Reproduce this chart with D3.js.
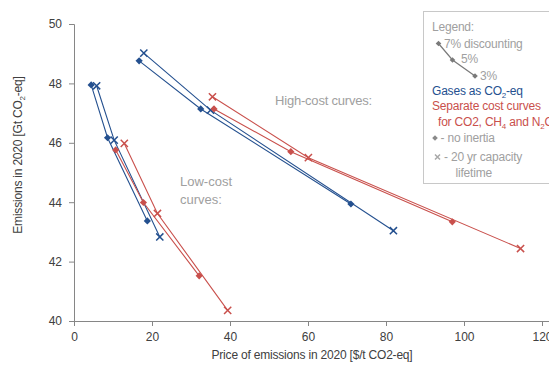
<!DOCTYPE html>
<html>
<head>
<meta charset="utf-8">
<script src="https://cdn.jsdelivr.net/npm/d3@7"></script>
<style>
  body { margin: 0; background: #fff; }
  text { font-family: "Liberation Sans", Arial, sans-serif; }
</style>
</head>
<body>
<div id="chart"></div>
<script>
// discount rates along each curve (7% -> 5% -> 3%)
const rates = ["7%", "5%", "3%"];

// [price $/t CO2-eq, emissions Gt CO2-eq] for each discount rate
const lowGasesNoInertia   = [[4.4, 47.95], [8.6, 46.17], [18.8, 43.37]];
const lowGasesCapacity    = [[5.8, 47.92], [10.3, 46.09], [22.0, 42.83]];
const lowSeparateNoInertia = [[10.7, 45.76], [17.8, 43.99], [32.1, 41.52]];
const lowSeparateCapacity  = [[12.9, 45.98], [21.4, 43.62], [39.4, 40.36]];
const highGasesNoInertia   = [[16.7, 48.76], [32.5, 47.14], [71.0, 43.94]];
const highGasesCapacity    = [[17.9, 49.02], [35.0, 47.10], [81.9, 43.04]];
const highSeparateNoInertia = [[35.9, 47.14], [55.6, 45.70], [97.0, 43.34]];
const highSeparateCapacity  = [[35.5, 47.55], [60.1, 45.50], [114.5, 42.44]];

const xTicks = [0, 20, 40, 60, 80, 100, 120];
const yTicks = [40, 42, 44, 46, 48, 50];

const blue = "#24508f";
const red = "#c9504c";
const grey = "#a0a0a0";

const series = [
    { pts: lowGasesNoInertia, color: blue, marker: "diamond" },
    { pts: lowGasesCapacity, color: blue, marker: "cross" },
    { pts: highGasesNoInertia, color: blue, marker: "diamond" },
    { pts: highGasesCapacity, color: blue, marker: "cross" },
    { pts: lowSeparateNoInertia, color: red, marker: "diamond" },
    { pts: lowSeparateCapacity, color: red, marker: "cross" },
    { pts: highSeparateNoInertia, color: red, marker: "diamond" },
    { pts: highSeparateCapacity, color: red, marker: "cross" }
];

const W = 549, H = 365;
const svg = d3.select("#chart").append("svg")
    .attr("width", W)
    .attr("height", H);

const x = d3.scaleLinear().domain([0, 120]).range([74, 542]);
const y = d3.scaleLinear().domain([40, 50]).range([321, 24]);

// axes
const xAxis = svg.append("g")
    .attr("transform", `translate(0,${y(40)})`)
    .call(d3.axisBottom(x).tickValues(xTicks).tickSize(5).tickPadding(6));
xAxis.select(".domain").attr("d", `M${x(0)},0.5H${W}`);

const yAxis = svg.append("g")
    .attr("transform", `translate(${x(0)},0)`)
    .call(d3.axisLeft(y).tickValues(yTicks).tickSize(5).tickPadding(7));

svg.selectAll(".domain, .tick line").attr("stroke", "#868686");
svg.selectAll(".tick text")
    .attr("fill", "#404040")
    .style("font-size", "12px");

// axis titles
svg.append("text")
    .attr("x", 312)
    .attr("y", 359)
    .attr("text-anchor", "middle")
    .attr("fill", "#404040")
    .style("font-size", "12px")
    .style("letter-spacing", "-0.2px")
    .text("Price of emissions in 2020 [$/t CO2-eq]");

const yt = svg.append("text")
    .attr("transform", "translate(22,155) rotate(-90)")
    .attr("text-anchor", "middle")
    .attr("fill", "#404040")
    .style("font-size", "12px")
    .style("letter-spacing", "-0.2px");
yt.append("tspan").text("Emissions in 2020 [Gt CO");
yt.append("tspan").attr("dy", 3).style("font-size", "8px").text("2");
yt.append("tspan").attr("dy", -3).text("-eq]");

// curves
const line = d3.line().x(d => x(d[0])).y(d => y(d[1]));

function drawMarker(g, kind, color, cx, cy, s) {
    if (kind === "diamond") {
        g.append("path")
            .attr("d", `M${cx},${cy - s}L${cx + s},${cy}L${cx},${cy + s}L${cx - s},${cy}Z`)
            .attr("fill", color);
    } else {
        g.append("path")
            .attr("d", `M${cx - s},${cy - s}L${cx + s},${cy + s}M${cx - s},${cy + s}L${cx + s},${cy - s}`)
            .attr("stroke", color)
            .attr("stroke-width", 1.5)
            .attr("fill", "none");
    }
}

series.forEach(s => {
    const g = svg.append("g");
    g.append("path")
        .datum(s.pts)
        .attr("d", line)
        .attr("fill", "none")
        .attr("stroke", s.color)
        .attr("stroke-width", 1.1);
    s.pts.forEach(p => drawMarker(g, s.marker, s.color, x(p[0]), y(p[1]), 3.6));
});

// annotations
svg.append("text")
    .attr("x", 275).attr("y", 105)
    .attr("fill", grey)
    .style("font-size", "13px")
    .style("letter-spacing", "-0.2px")
    .text("High-cost curves:");

svg.append("text")
    .attr("x", 180).attr("y", 186)
    .attr("fill", grey)
    .style("font-size", "13px")
    .text("Low-cost");
svg.append("text")
    .attr("x", 180).attr("y", 204)
    .attr("fill", grey)
    .style("font-size", "13px")
    .text("curves:");

// legend box
const lg = svg.append("g");
lg.append("rect")
    .attr("x", 423.5).attr("y", 11.5)
    .attr("width", 140).attr("height", 172)
    .attr("fill", "#fff")
    .attr("stroke", "#c8c8c8");

const lgText = (tx, ty, color) => lg.append("text")
    .attr("x", tx).attr("y", ty)
    .attr("fill", color)
    .style("font-size", "12px")
    .style("letter-spacing", "-0.2px");

lgText(432, 31, grey).text("Legend:");

const miniPts = [[438.5, 43.5], [452.5, 60], [475, 76]];
lg.append("path")
    .attr("d", d3.line()(miniPts))
    .attr("stroke", "#7a7a7a")
    .attr("stroke-width", 1.2)
    .attr("fill", "none");
miniPts.forEach(p => drawMarker(lg, "diamond", "#7a7a7a", p[0], p[1], 2.8));
lgText(444, 47.5, grey).text(rates[0] + " discounting");
lgText(461, 62.5, grey).text(rates[1]);
lgText(480, 79.5, grey).text(rates[2]);

const t1 = lgText(432, 94.5, blue);
t1.append("tspan").text("Gases as CO");
t1.append("tspan").attr("dy", 3).style("font-size", "8px").text("2");
t1.append("tspan").attr("dy", -3).text("-eq");

lgText(432, 110, red).text("Separate cost curves");
const t2 = lgText(438, 126, red);
t2.append("tspan").text("for CO2,  CH");
t2.append("tspan").attr("dy", 3).style("font-size", "8px").text("4");
t2.append("tspan").attr("dy", -3).text(" and N");
t2.append("tspan").attr("dy", 3).style("font-size", "8px").text("2");
t2.append("tspan").attr("dy", -3).text("O");

drawMarker(lg, "diamond", "#8a8a8a", 435, 138, 2.8);
lgText(440.5, 142, grey).text("- no inertia");
drawMarker(lg, "cross", "#a8a8a8", 437.5, 157, 2.5);
lgText(444, 160.5, grey).text("- 20 yr capacity");
lgText(455.5, 176.5, grey).text("lifetime");
</script>
</body>
</html>
